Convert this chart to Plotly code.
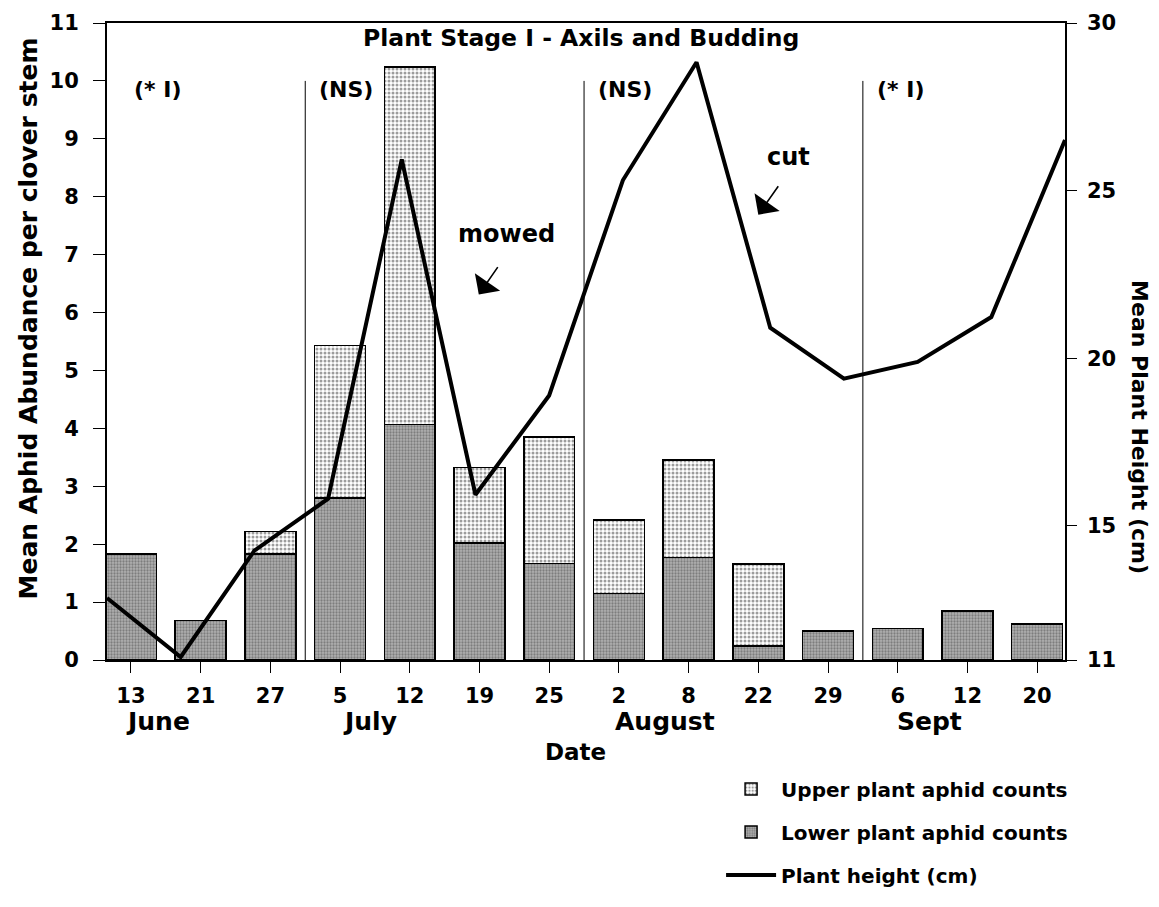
import plotly.graph_objects as go

# ---------------- data ----------------
day_labels = ["13", "21", "27", "5", "12", "19", "25", "2", "8", "22", "29", "6", "12", "20"]
lower_counts = [1.83, 0.68, 1.83, 2.80, 4.07, 2.02, 1.67, 1.15, 1.77, 0.24, 0.50, 0.54, 0.85, 0.62]
upper_counts = [0.00, 0.00, 0.39, 2.63, 6.17, 1.30, 2.18, 1.27, 1.68, 1.42, 0.00, 0.00, 0.00, 0.00]
plant_height = [12.85, 11.09, 14.26, 15.81, 25.93, 15.93, 18.89, 25.31, 28.83, 20.91, 19.39, 19.89, 21.23, 26.51]

months = ["June", "July", "August", "Sept"]
month_pos = [0.39, 3.43, 7.66, 11.46]

period_labels = ["(* I)", "(NS)", "(NS)", "(* I)"]
period_pos = [0.02, 2.67, 6.67, 10.67]
period_bounds = [2.5, 6.5, 10.5]

height_ticks = [11, 15, 20, 25, 30]

idx = list(range(len(day_labels)))
FONT = "DejaVu Sans, Verdana, sans-serif"


def bold(size):
    return dict(size=size, family=FONT, color="black", weight="bold")


fig = go.Figure()

fig.add_trace(go.Bar(
    x=idx, y=lower_counts, name="Lower plant aphid counts", legendrank=2,
    width=0.73,
    marker=dict(color="#b0b0b0", line=dict(color="black", width=1.5),
                pattern=dict(shape=".", fgcolor="#4a4a4a", size=3, solidity=0.45, fillmode="overlay")),
    legendgroup="lower",
))
fig.add_trace(go.Bar(
    x=idx, y=upper_counts, name="Upper plant aphid counts", legendrank=1,
    width=0.73,
    marker=dict(color="white", line=dict(color="black", width=1.5),
                pattern=dict(shape=".", fgcolor="#3a3a3a", size=4, solidity=0.45, fillmode="overlay")),
    legendgroup="upper",
))
line_x = list(range(len(plant_height)))
fig.add_trace(go.Scatter(
    x=line_x, y=plant_height, mode="lines", name="Plant height (cm)", legendrank=3,
    line=dict(color="black", width=4), xaxis="x2", yaxis="y2",
    legendgroup="height",
))

xmin, xmax = -0.344, 13.4

shapes = []
for b in period_bounds:
    shapes.append(dict(type="line", xref="x", yref="y", x0=b, x1=b, y0=0, y1=10,
                       line=dict(color="black", width=1)))

annotations = []
for t, p in zip(period_labels, period_pos):
    annotations.append(dict(x=p, y=9.85, xref="x", yref="y", text=t, showarrow=False,
                            xanchor="left", yanchor="middle", font=bold(22)))
for m, p in zip(months, month_pos):
    annotations.append(dict(x=p, y=-0.097, xref="x", yref="paper", text=m, showarrow=False,
                            xanchor="center", yanchor="middle", font=bold(25)))
annotations += [
    dict(x=(575 - 107) / 958, y=-0.145, xref="paper", yref="paper", text="Date", showarrow=False,
         xanchor="center", yanchor="middle", font=bold(23)),
    dict(x=6.45, y=10.74, xref="x", yref="y", text="Plant Stage I - Axils and Budding", showarrow=False,
         xanchor="center", yanchor="middle", font=bold(23.5)),
    dict(x=-0.082, y=0.537, xref="paper", yref="paper", text="Mean Aphid Abundance per clover stem",
         showarrow=False, textangle=-90, xanchor="center", yanchor="middle", font=bold(25)),
    dict(x=1.077, y=0.366, xref="paper", yref="paper", text="Mean Plant Height (cm)",
         showarrow=False, textangle=90, xanchor="center", yanchor="middle", font=bold(22)),
    dict(x=5.39, y=7.36, xref="x", yref="y", text="mowed", showarrow=False, font=bold(24)),
    dict(x=9.44, y=8.68, xref="x", yref="y", text="cut", showarrow=False, font=bold(24)),
    dict(x=4.99, y=6.31, xref="x", yref="y", ax=20, ay=-29, text="", showarrow=True,
         arrowhead=1, arrowsize=3.2, arrowwidth=1.6, arrowcolor="black"),
    dict(x=9.0, y=7.69, xref="x", yref="y", ax=21, ay=-30, text="", showarrow=True,
         arrowhead=1, arrowsize=3.2, arrowwidth=1.6, arrowcolor="black"),
]

tickfont = bold(21)

fig.update_layout(
    width=1159, height=907,
    margin=dict(l=107, r=94, t=23, b=236),
    paper_bgcolor="white", plot_bgcolor="white",
    barmode="stack",
    font=dict(family=FONT, color="black"),
    shapes=shapes, annotations=annotations,
    xaxis=dict(range=[xmin, xmax], tickmode="array", tickvals=idx, ticktext=day_labels,
               showline=True, linecolor="black", linewidth=2, mirror=True,
               ticks="outside", ticklen=11, tickwidth=1, tickcolor="black",
               tickfont=tickfont, showgrid=False, zeroline=False, ticklabelstandoff=5),
    xaxis2=dict(range=[0, len(plant_height) - 1], overlaying="x", visible=False),
    yaxis=dict(range=[0, 11], dtick=1, tick0=0, showline=True, linecolor="black", linewidth=2,
               ticks="outside", ticklen=12, tickwidth=1, tickcolor="black",
               tickfont=tickfont, showgrid=False, zeroline=False, ticklabelstandoff=10),
    yaxis2=dict(range=[11, 30], overlaying="y", side="right", anchor="x",
                tickmode="array", tickvals=height_ticks,
                showline=True, linecolor="black", linewidth=1.5,
                ticks="outside", ticklen=10, tickwidth=1, tickcolor="black",
                tickfont=tickfont, showgrid=False, zeroline=False, ticklabelstandoff=6),
    legend=dict(x=0.641, y=-0.172, xanchor="left", yanchor="top",
                font=bold(20), tracegroupgap=14, itemwidth=50, bgcolor="rgba(0,0,0,0)"),
    showlegend=True,
)

fig.write_html("out.html")
